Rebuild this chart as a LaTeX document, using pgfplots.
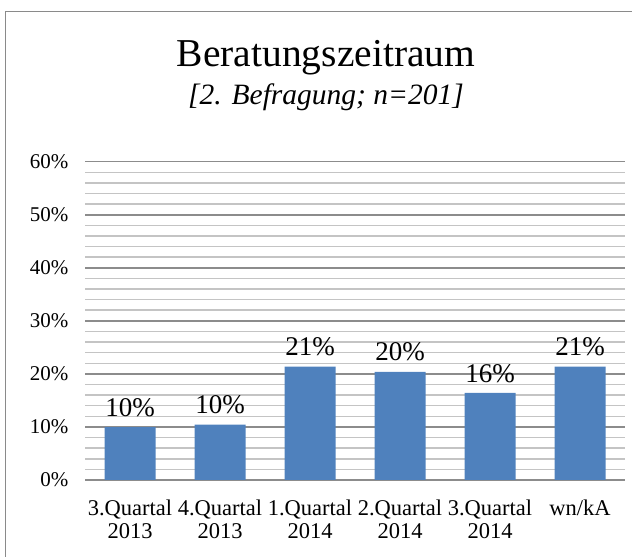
\documentclass[border=0pt]{standalone}
\usepackage{pgfplots}
\pgfplotsset{compat=1.18}
\usepackage{fontspec}
\setmainfont{Liberation Serif}
\definecolor{barblue}{HTML}{4F81BD}
\definecolor{majgrid}{HTML}{8C8C8C}
\definecolor{mingrid}{HTML}{C4C4C4}
\definecolor{framegray}{HTML}{8A8A8A}
\begin{document}
\begin{tikzpicture}[x=1pt,y=1pt]
\path[use as bounding box] (0,0) rectangle (632,557);
\draw[framegray, line width=1.3pt] (5.5,0) -- (5.5,545.5) -- (632,545.5);
\node[anchor=base, font=\fontsize{39.5}{46}\selectfont] at (326,490) {Beratungszeitraum};
\node[anchor=base, font=\fontsize{29.5}{34}\selectfont\itshape] at (326,452) {[2. Befragung; n=201]};
\begin{axis}[
  at={(85pt,77pt)}, anchor=south west,
  scale only axis, width=540pt, height=318.3pt,
  xmin=-0.5, xmax=5.5, ymin=0, ymax=60,
  xtick={0,1,2,3,4,5},
  xticklabels={{3.Quartal\\2013},{4.Quartal\\2013},{1.Quartal\\2014},{2.Quartal\\2014},{3.Quartal\\2014},{wn/kA}},
  xticklabel style={align=center, font=\fontsize{22.5}{23.5}\selectfont, anchor=north, yshift=-12pt},
  ytick={0,10,20,30,40,50,60},
  yticklabel={\pgfmathprintnumber{\tick}\%},
  yticklabel style={font=\fontsize{21}{24}\selectfont, xshift=-13pt},
  /pgf/number format/assume math mode=true,
  minor y tick num=4,
  ymajorgrids, yminorgrids,
  major grid style={majgrid, line width=1.5pt},
  minor grid style={mingrid, line width=1.5pt},
  axis line style={draw=none},
  major tick style={draw=none}, minor tick style={draw=none},
  ybar, bar width=51pt,
  nodes near coords={\pgfmathprintnumber[fixed,precision=0]{\pgfplotspointmeta}\%},
  nodes near coords style={font=\fontsize{27}{30}\selectfont, yshift=7pt},
  clip=false,
]
\addplot[fill=barblue, draw=none] coordinates {(0,9.95) (1,10.45) (2,21.39) (3,20.40) (4,16.42) (5,21.39)};
\end{axis}
\end{tikzpicture}
\end{document}
